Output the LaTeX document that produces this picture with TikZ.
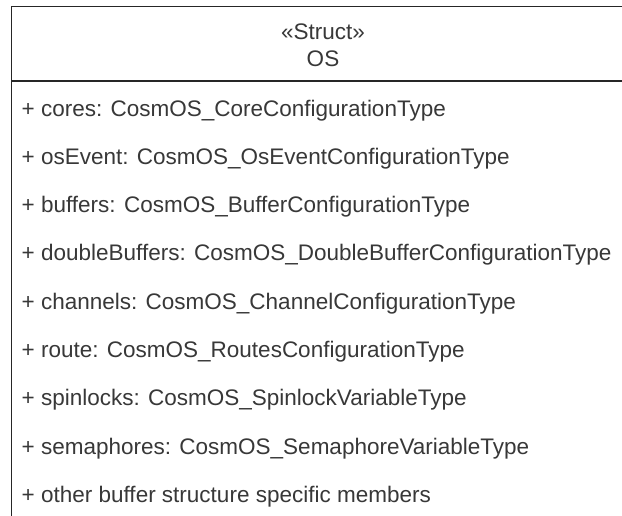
\documentclass[tikz,border=0pt]{standalone}
\usepackage{fontspec}
\setmainfont{Liberation Sans}
\begin{document}
\begin{tikzpicture}[x=1pt,y=-1pt,
  frame/.style={line width=1.6pt, draw=black!85},
  member/.style={anchor=base west, inner sep=0pt, text=black!78,
    font=\fontsize{22.5}{27}\selectfont},
  header/.style={anchor=base, inner sep=0pt, text=black!78,
    font=\fontsize{22.5}{27}\selectfont}]
  \useasboundingbox (0,0) rectangle (622,515);
  \clip (0,0) rectangle (622,515);
  \fill[white] (0,0) rectangle (622,515);
  % class frame (continues past the right and bottom edges)
  \coordinate (tl) at (11.5,6.5);
  \coordinate (tr) at (650,6.5);
  \coordinate (bl) at (11.5,540);
  \coordinate (dl) at (11.5,81);
  \coordinate (dr) at (650,81);
  \draw[frame] (bl) -- (tl) -- (tr);
  \draw[frame] (dl) -- (dr);
  % header
  \node[header] (stereo) at (323,39.7) {«Struct»};
  \node[header] (name) at (323,66.7) {OS};
  % members
  \node[member] (m1) at (21.5,116.0) {+ cores: CosmOS\_CoreConfigurationType};
  \node[member] (m2) at (21.5,164.3) {+ osEvent: CosmOS\_OsEventConfigurationType};
  \node[member] (m3) at (21.5,212.6) {+ buffers: CosmOS\_BufferConfigurationType};
  \node[member] (m4) at (21.5,260.9) {+ doubleBuffers: CosmOS\_DoubleBufferConfigurationType};
  \node[member] (m5) at (21.5,309.2) {+ channels: CosmOS\_ChannelConfigurationType};
  \node[member] (m6) at (21.5,357.5) {+ route: CosmOS\_RoutesConfigurationType};
  \node[member] (m7) at (21.5,405.8) {+ spinlocks: CosmOS\_SpinlockVariableType};
  \node[member] (m8) at (21.5,454.1) {+ semaphores: CosmOS\_SemaphoreVariableType};
  \node[member] (m9) at (21.5,502.4) {+ other buffer structure specific members};
\end{tikzpicture}
\end{document}
